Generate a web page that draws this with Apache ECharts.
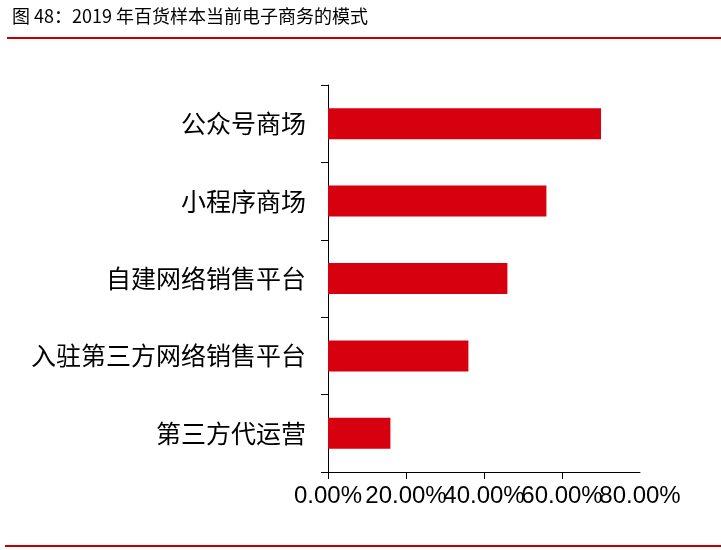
<!DOCTYPE html>
<html>
<head>
<meta charset="utf-8">
<script src="https://cdn.jsdelivr.net/npm/echarts@6/dist/echarts.min.js"></script>
<style>
  html, body { margin: 0; padding: 0; background: #fff; }
  #chart { width: 721px; height: 550px; }
</style>
</head>
<body>
<div id="chart"></div>
<script>
// 百货样本当前电子商务模式占比（%）
const categories = ['公众号商场', '小程序商场', '自建网络销售平台', '入驻第三方网络销售平台', '第三方代运营'];
const shares = [70, 56, 46, 36, 16];
const xTicks = [0, 20, 40, 60, 80];

const titleText = '图 48：2019 年百货样本当前电子商务的模式';
const cjkFont = '"Noto Sans CJK SC", "Liberation Sans", sans-serif';
const latinFont = '"Liberation Sans", Arial, sans-serif';
const accent = '#C00000';

const xMin = xTicks[0];
const xMax = xTicks[xTicks.length - 1];
const pct = v => v.toFixed(2) + '%';

const chart = echarts.init(document.getElementById('chart'));

const labelBase = { fontSize: 24, fontFamily: latinFont, color: '#000', margin: 12 };

const option = {
  animation: false,
  graphic: [
    {
      type: 'text', left: 12, top: 7,
      style: { text: titleText, fontSize: 18, fontFamily: cjkFont, fill: '#000' }
    },
    {
      type: 'line', shape: { x1: 7, y1: 38, x2: 721, y2: 38 },
      style: { stroke: accent, lineWidth: 2 }
    },
    {
      type: 'line', shape: { x1: 5, y1: 546, x2: 721, y2: 546 },
      style: { stroke: accent, lineWidth: 2 }
    }
  ],
  grid: { left: 328, right: 81, top: 85, bottom: 78, containLabel: false },
  xAxis: [
    {
      type: 'value',
      position: 'bottom',
      min: xMin,
      max: xMax,
      interval: 20,
      axisLine: { show: true, lineStyle: { color: '#000', width: 1 } },
      axisTick: { show: true, length: 7, lineStyle: { color: '#000' } },
      splitLine: { show: false },
      axisLabel: { ...labelBase, showMaxLabel: false, formatter: pct }
    },
    {
      // only carries the last tick label, which the first axis would drop for overlapping
      type: 'value',
      position: 'bottom',
      offset: 0,
      min: xMin,
      max: xMax,
      interval: 20,
      axisLine: { show: false },
      axisTick: { show: false },
      splitLine: { show: false },
      axisLabel: {
        ...labelBase,
        showMinLabel: false,
        showMaxLabel: true,
        formatter: v => (v === xMax ? pct(v) : '')
      }
    }
  ],
  yAxis: {
    type: 'category',
    data: categories,
    inverse: true,
    axisLine: { show: true, lineStyle: { color: '#000', width: 1 } },
    axisTick: { show: true, length: 7, lineStyle: { color: '#000' } },
    splitLine: { show: false },
    axisLabel: {
      fontSize: 25,
      fontFamily: cjkFont,
      color: '#000',
      margin: 22
    }
  },
  series: [
    {
      type: 'bar',
      xAxisIndex: 0,
      data: shares,
      barWidth: 31,
      itemStyle: { color: '#D7000F' }
    }
  ]
};

chart.setOption(option);
</script>
</body>
</html>
